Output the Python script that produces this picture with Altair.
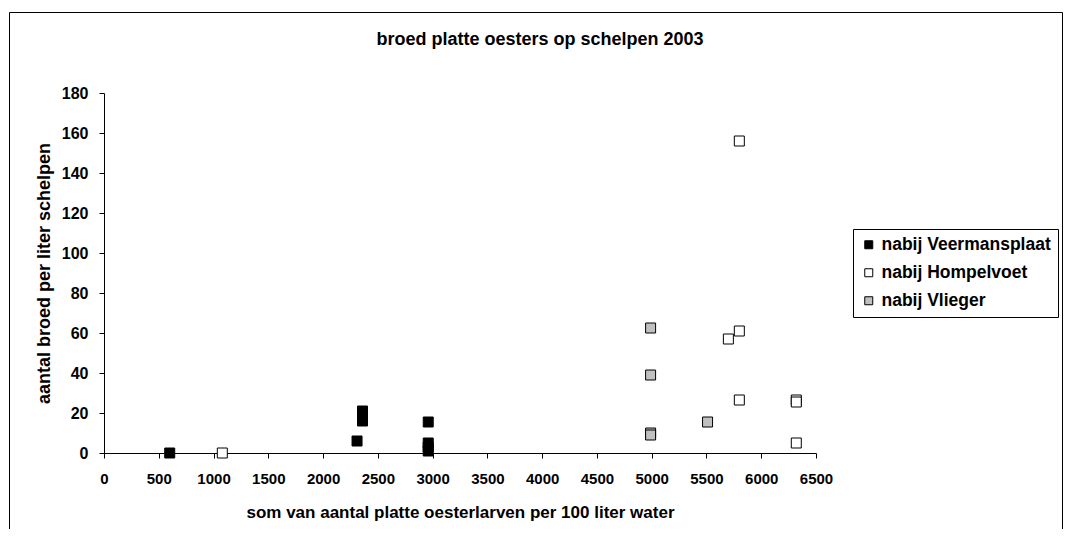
import altair as alt
import pandas as pd

# Data
veer_x = [600, 2310, 2360, 2360, 2360, 2960, 2960, 2960, 2960]
veer_y = [0, 6, 21, 18, 16, 15.5, 5, 3, 1]

homp_x = [1080, 5800, 5800, 5700, 5800, 6320, 6320, 6320]
homp_y = [0, 156, 61, 57, 26.5, 26.5, 25.5, 5]

vlieg_x = [4990, 4990, 5510, 4990, 4990]
vlieg_y = [62.5, 39, 15.5, 10, 9]

series_names = ["nabij Veermansplaat", "nabij Hompelvoet", "nabij Vlieger"]
series_fill = ["black", "white", "#C0C0C0"]

title_text = "broed platte oesters op schelpen 2003"
x_title = "som van aantal platte oesterlarven per 100 liter water"
y_title = "aantal broed per liter schelpen"
x_ticks = list(range(0, 6501, 500))
y_ticks = list(range(0, 181, 20))

rows = []
for name, xs, ys in zip(series_names, [veer_x, homp_x, vlieg_x], [veer_y, homp_y, vlieg_y]):
    for xv, yv in zip(xs, ys):
        rows.append({"x": xv, "y": yv, "reeks": name})
df = pd.DataFrame(rows)

FONT = "Liberation Sans"
W, H = 712, 360

points = alt.Chart(df).mark_point(
    shape="square", filled=True, size=100, stroke="black", strokeWidth=1, opacity=1
).encode(
    x=alt.X("x:Q", scale=alt.Scale(domain=[0, 6500], nice=False),
            axis=alt.Axis(values=x_ticks, format="d", title=x_title, titlePadding=18,
                          labelPadding=13, labelFlush=False, labelFontSize=15,
                          titleFontSize=17)),
    y=alt.Y("y:Q", scale=alt.Scale(domain=[0, 180], nice=False),
            axis=alt.Axis(values=y_ticks, format="d", title=y_title, titlePadding=8,
                          labelPadding=11, labelFontSize=16, titleFontSize=18)),
    fill=alt.Fill("reeks:N",
                  scale=alt.Scale(domain=series_names, range=series_fill),
                  sort=series_names,
                  legend=alt.Legend(title=None, orient="none", legendX=749, legendY=136,
                                    symbolType="square", symbolSize=64,
                                    symbolStrokeColor="black", symbolStrokeWidth=1,
                                    labelFont=FONT, labelFontSize=17.5, labelFontWeight="bold",
                                    labelColor="black", rowPadding=9, padding=7,
                                    strokeColor="black", fillColor="white",
                                    labelLimit=400)),
)

frame = alt.Chart(pd.DataFrame({"a": [0]})).mark_rect(
    fillOpacity=0, stroke="black", strokeWidth=1
).encode(
    x=alt.value(-94.5), x2=alt.value(958.5), y=alt.value(-80.5), y2=alt.value(460)
)

title = alt.Chart(pd.DataFrame({"a": [0]})).mark_text(
    text=title_text, font=FONT, fontSize=18, fontWeight="bold", color="black",
    align="center", baseline="middle"
).encode(x=alt.value(436), y=alt.value(-53))

chart = alt.layer(frame, title, points).properties(
    width=W, height=H,
    padding={"left": 96, "top": 85, "right": 247, "bottom": 76},
    autosize="none",
    background="white",
).configure_view(stroke=None).configure_axis(
    grid=False, domainColor="black", tickColor="black", tickSize=5,
    labelFont=FONT, labelFontWeight="bold", labelColor="black",
    titleFont=FONT, titleFontWeight="bold", titleColor="black",
)

chart.save("out.html", embed_options={"renderer": "svg", "actions": False})
